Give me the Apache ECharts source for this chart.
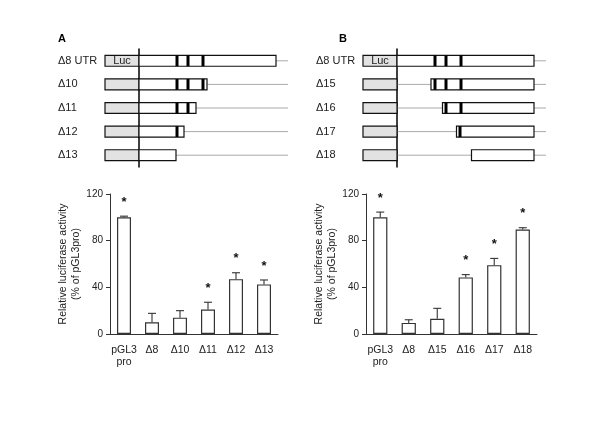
<!DOCTYPE html>
<html>
<head>
<meta charset="utf-8">
<script src="https://cdn.jsdelivr.net/npm/echarts@6/dist/echarts.min.js"></script>
<style>html,body{margin:0;padding:0;background:#fff}#c{width:600px;height:424px}</style>
</head>
<body>
<div id="c"></div>
<script>
// ---------- construct diagrams (arbitrary position units, 0 = start of 3'UTR) ----------
var rowsA = ['Δ8 UTR', 'Δ10', 'Δ11', 'Δ12', 'Δ13'];
var startA = [0, 0, 0, 0, 0];
var endA = [137, 68, 57, 45, 37];
var markersA = [[38, 49, 64], [38, 49, 64], [38, 49], [38], []];

var rowsB = ['Δ8 UTR', 'Δ15', 'Δ16', 'Δ17', 'Δ18'];
var startB = [0, 34, 45.5, 59.5, 74.5];
var endB = [137, 137, 137, 137, 137];
var markersB = [[38, 49, 64], [38, 49, 64], [49, 64], [63], []];

var lucStart = -34;
var lineEnd = 149;

// ---------- luciferase activity ----------
var categoriesA = ['pGL3\npro', 'Δ8', 'Δ10', 'Δ11', 'Δ12', 'Δ13'];
var valuesA = [100, 10, 14, 21, 47, 42.5];
var errorsA = [1, 7.7, 6, 6.2, 5.5, 3.8];
var signifA = [1, 0, 0, 1, 1, 1];

var categoriesB = ['pGL3\npro', 'Δ8', 'Δ15', 'Δ16', 'Δ17', 'Δ18'];
var valuesB = [100, 9.5, 13, 48.5, 59, 89.5];
var errorsB = [4.5, 2.7, 9, 2.4, 5.8, 1.6];
var signifB = [1, 0, 0, 1, 1, 1];

var yTicks = [0, 40, 80, 120];

var FONT = 'Liberation Sans, Arial, sans-serif';
var chart = echarts.init(document.getElementById('c'));

function diagramSeries(xIdx, yIdx, rows, starts, ends, markers) {
  var data = rows.map(function (r, i) { return [i, starts[i], ends[i]]; });
  return {
    type: 'custom', xAxisIndex: xIdx, yAxisIndex: yIdx, silent: true, z: 5,
    data: data,
    renderItem: function (params, api) {
      var i = params.dataIndex;
      var row = api.value(0), s = api.value(1), e = api.value(2);
      var h = api.size([0, 1])[1] * 0.46;
      var pL = api.coord([lucStart, row]);
      var p0 = api.coord([0, row]);
      var pS = api.coord([s, row]);
      var pE = api.coord([e, row]);
      var pEnd = api.coord([lineEnd, row]);
      var cy = p0[1];
      var children = [
        { type: 'line', shape: { x1: p0[0], y1: cy, x2: pEnd[0], y2: cy }, style: { stroke: '#aaa', lineWidth: 1 } },
        { type: 'rect', shape: { x: pL[0], y: cy - h / 2, width: p0[0] - pL[0], height: h }, style: { fill: '#e2e2e2', stroke: '#111', lineWidth: 1.2 } },
        { type: 'rect', shape: { x: pS[0], y: cy - h / 2, width: pE[0] - pS[0], height: h }, style: { fill: '#fff', stroke: '#111', lineWidth: 1.2 } }
      ];
      markers[i].forEach(function (m) {
        var a = api.coord([m - 1.5, row]), b = api.coord([m + 1.5, row]);
        children.push({ type: 'rect', shape: { x: a[0], y: cy - h / 2, width: b[0] - a[0], height: h }, style: { fill: '#000' } });
      });
      if (i === 0) {
        var mid = api.coord([lucStart / 2, row]);
        children.push({ type: 'text', style: { text: 'Luc', x: mid[0], y: cy + 0.5, align: 'center', verticalAlign: 'middle', fontSize: 11, fontFamily: FONT, fill: '#222' } });
      }
      return { type: 'group', children: children };
    }
  };
}

function barSeries(idx, values) {
  return {
    type: 'bar', xAxisIndex: idx + 2, yAxisIndex: idx + 4, data: values, barWidth: '50%',
    itemStyle: { color: '#fff', borderColor: '#333', borderWidth: 1.2 }, silent: true
  };
}

function errSeries(idx, values, errors, signif) {
  return {
    type: 'custom', xAxisIndex: idx + 2, yAxisIndex: idx + 4, silent: true, z: 3,
    data: values.map(function (v, i) { return [i, v, v + errors[i], signif[i]]; }),
    renderItem: function (params, api) {
      var x = api.value(0);
      var pLow = api.coord([x, api.value(1)]);
      var pHigh = api.coord([x, api.value(2)]);
      var capHalf = 4;
      var children = [
        { type: 'line', shape: { x1: pLow[0], y1: pLow[1], x2: pHigh[0], y2: pHigh[1] }, style: { stroke: '#333', lineWidth: 1.1 } },
        { type: 'line', shape: { x1: pHigh[0] - capHalf, y1: pHigh[1], x2: pHigh[0] + capHalf, y2: pHigh[1] }, style: { stroke: '#333', lineWidth: 1.1 } }
      ];
      if (api.value(3)) {
        children.push({ type: 'text', style: { text: '*', x: pHigh[0], y: pHigh[1] - 14, align: 'center', verticalAlign: 'middle', fontSize: 13, fontWeight: 'bold', fontFamily: FONT, fill: '#111' } });
      }
      return { type: 'group', children: children };
    }
  };
}

var diagramGrids = [
  { left: 105, top: 49, width: 183, height: 118 },
  { left: 363, top: 49, width: 183, height: 118 }
];
var barGrids = [
  { left: 110, top: 194, width: 168, height: 140 },
  { left: 366, top: 194, width: 171, height: 140 }
];

function diagX(gi) {
  return { type: 'value', gridIndex: gi, min: lucStart, max: lineEnd, show: false };
}
function diagYLine(gi, rows) {
  return {
    type: 'category', gridIndex: gi, data: rows, inverse: true,
    axisLine: { show: true, onZero: true, lineStyle: { color: '#000', width: 1.5 } },
    axisTick: { show: false }, axisLabel: { show: false }, splitLine: { show: false }
  };
}
function diagYLabels(gi, rows) {
  return {
    type: 'category', gridIndex: gi, data: rows, inverse: true, position: 'left',
    axisLine: { show: false, onZero: false }, axisTick: { show: false },
    axisLabel: { show: true, align: 'left', margin: 47, fontSize: 11, fontFamily: FONT, color: '#222' }
  };
}
function barX(gi, cats) {
  return {
    type: 'category', gridIndex: gi, data: cats,
    axisLine: { show: true, onZero: false, lineStyle: { color: '#333', width: 1 } },
    axisTick: { show: false },
    axisLabel: { fontSize: 10.5, lineHeight: 12, margin: 10, fontFamily: FONT, color: '#222', interval: 0 }
  };
}
function barY(gi, gap) {
  return {
    type: 'value', gridIndex: gi, min: yTicks[0], max: yTicks[yTicks.length - 1], interval: yTicks[1] - yTicks[0],
    name: 'Relative luciferase activity\n(% of pGL3pro)', nameLocation: 'middle', nameGap: gap, nameRotate: 90,
    nameTextStyle: { fontSize: 10.5, lineHeight: 13, fontFamily: FONT, color: '#222' },
    axisLine: { show: true, lineStyle: { color: '#333', width: 1 } },
    axisTick: { show: true, length: 4, lineStyle: { color: '#333' } },
    axisLabel: { fontSize: 10, margin: 7, fontFamily: FONT, color: '#222' },
    splitLine: { show: false }
  };
}

chart.setOption({
  animation: false,
  backgroundColor: '#fff',
  title: [
    { text: 'A', left: 53, top: 28, textStyle: { fontSize: 11, fontWeight: 'bold', fontFamily: FONT, color: '#000' } },
    { text: 'B', left: 334, top: 28, textStyle: { fontSize: 11, fontWeight: 'bold', fontFamily: FONT, color: '#000' } }
  ],
  grid: diagramGrids.concat(barGrids),
  xAxis: [diagX(0), diagX(1), barX(2, categoriesA), barX(3, categoriesB)],
  yAxis: [diagYLine(0, rowsA), diagYLabels(0, rowsA), diagYLine(1, rowsB), diagYLabels(1, rowsB), barY(2, 25), barY(3, 23)],
  series: [
    diagramSeries(0, 0, rowsA, startA, endA, markersA),
    diagramSeries(1, 2, rowsB, startB, endB, markersB),
    barSeries(0, valuesA), errSeries(0, valuesA, errorsA, signifA),
    barSeries(1, valuesB), errSeries(1, valuesB, errorsB, signifB)
  ]
});
</script>
</body>
</html>
